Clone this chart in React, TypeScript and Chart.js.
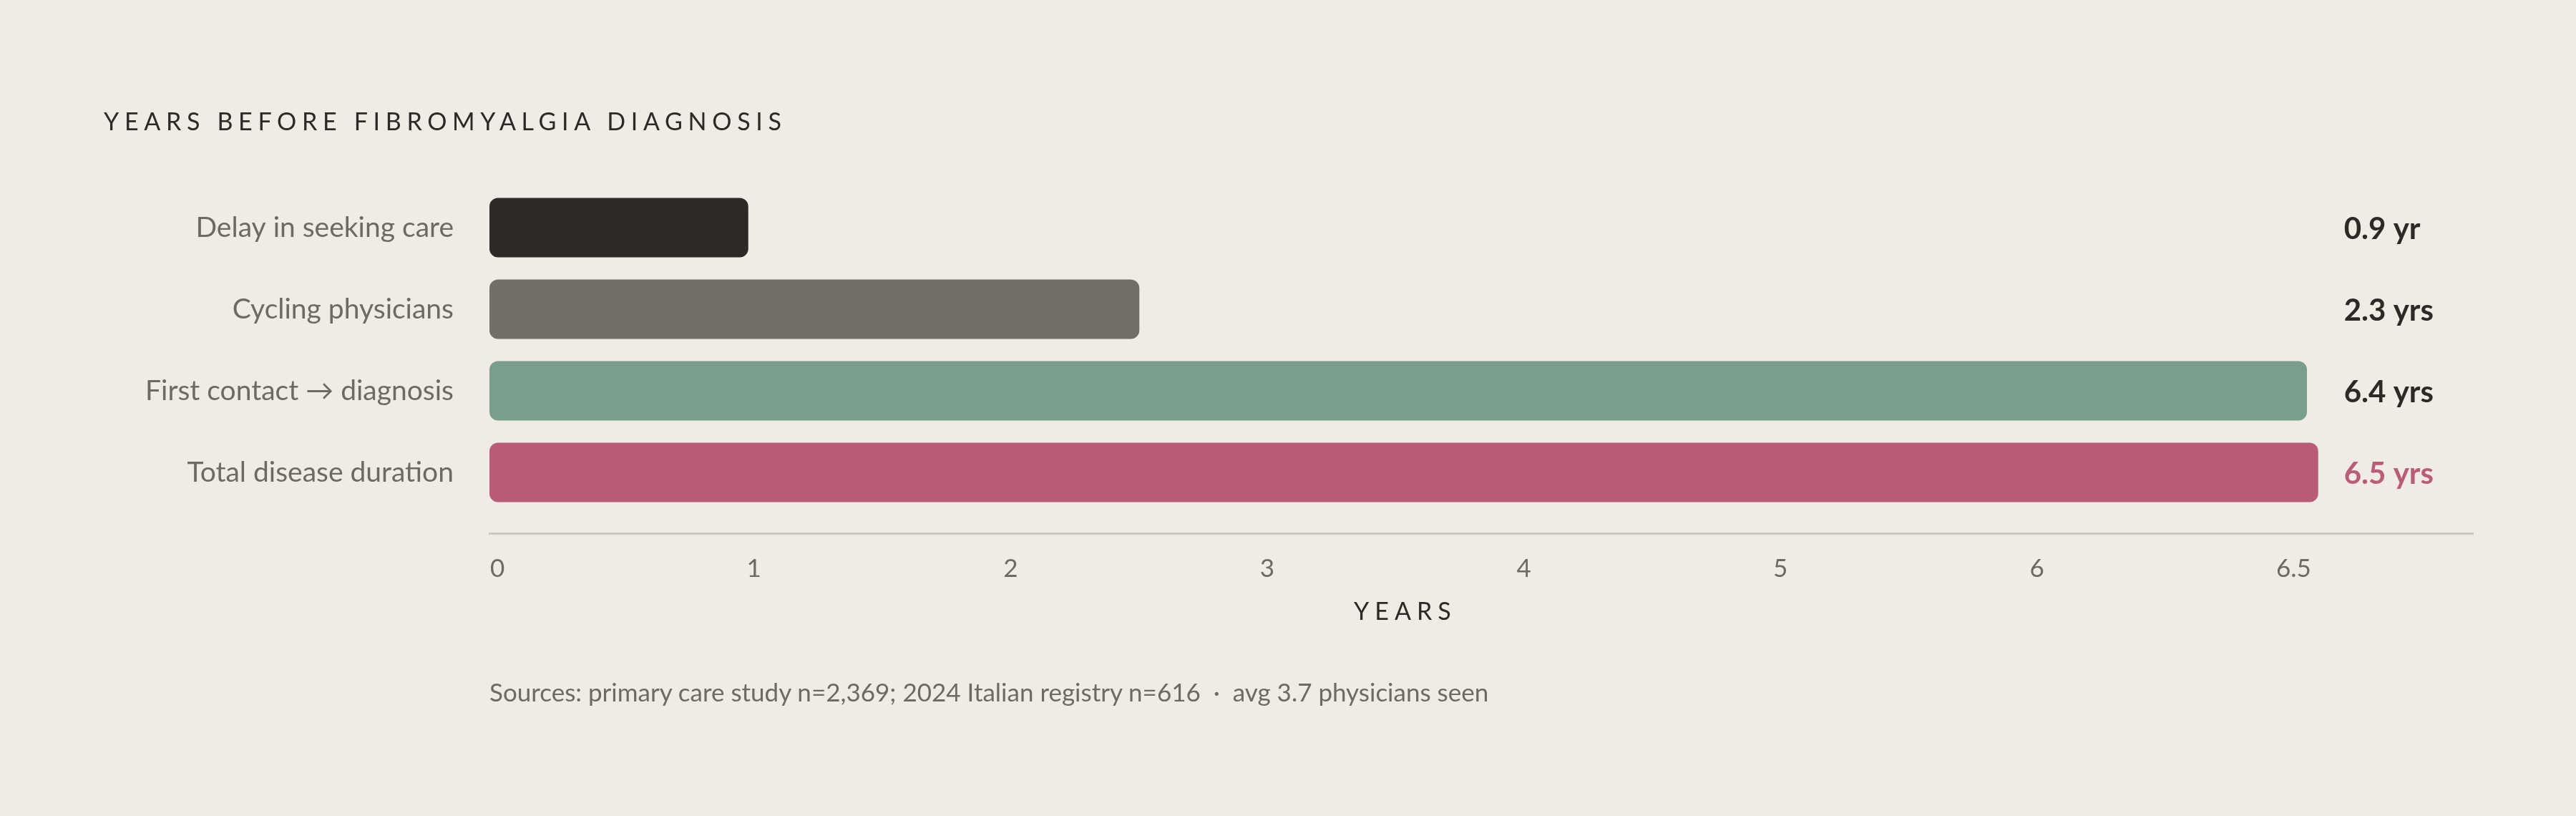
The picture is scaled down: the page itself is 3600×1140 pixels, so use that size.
import { useEffect, useRef } from "react";
import { Chart, registerables } from "chart.js";

Chart.register(...registerables);

const categories = [
  "Delay in seeking care",
  "Cycling physicians",
  "First contact \u2192 diagnosis",
  "Total disease duration",
];
const years = [0.92, 2.31, 6.46, 6.5];
const valueLabels = ["0.9 yr", "2.3 yrs", "6.4 yrs", "6.5 yrs"];
const barColors = ["#2d2926", "#736d68", "#7a9e8c", "#b95c78"];
const valueColors = ["#2d2926", "#2d2926", "#2d2926", "#b95c78"];
const tickLabels = ["0", "1", "2", "3", "4", "5", "6", "6.5"];

const BG = "#f0ebe5";
const INK = "#2d2926";
const MUTED = "#6e6964";

// value labels at the end of the track + the "YEARS" axis caption
const overlayPlugin = {
  id: "overlay",
  afterDatasetsDraw(chart: any) {
    const { ctx } = chart;
    const x = chart.scales.x;
    const y = chart.scales.y;
    const meta = chart.getDatasetMeta(0);
    const maxYears = Math.max(...years);
    const labelX = x.getPixelForValue(maxYears) + 36;

    ctx.save();
    ctx.font = "bold 42px Lato";
    ctx.textAlign = "left";
    ctx.textBaseline = "middle";
    meta.data.forEach((bar: any, i: number) => {
      ctx.fillStyle = valueColors[i];
      ctx.fillText(valueLabels[i], labelX, bar.y + 2);
    });

    ctx.font = "34px Lato";
    ctx.letterSpacing = "8px";
    ctx.fillStyle = INK;
    ctx.textAlign = "center";
    ctx.fillText("YEARS", x.getPixelForValue(maxYears / 2) + 2, y.getPixelForValue(3.75) + 110);
    ctx.restore();
  },
};

function YearsChart() {
  const canvasRef = useRef<HTMLCanvasElement>(null);
  const chartRef = useRef<Chart | null>(null);

  useEffect(() => {
    if (!canvasRef.current) return;
    const ctx = canvasRef.current.getContext("2d");
    if (!ctx) return;

    if (chartRef.current) {
      chartRef.current.destroy();
    }

    Chart.defaults.font.family = "Lato";

    chartRef.current = new Chart(ctx, {
      type: "bar",
      data: {
        labels: categories,
        datasets: [
          {
            data: years,
            backgroundColor: barColors,
            borderRadius: 12,
            borderSkipped: false,
            categoryPercentage: 1,
            barPercentage: 0.73,
          },
        ],
      },
      options: {
        indexAxis: "y",
        animation: false,
        responsive: true,
        maintainAspectRatio: false,
        layout: {
          padding: { left: 0, right: 144, top: 261, bottom: 423 },
        },
        plugins: {
          legend: { display: false },
          tooltip: { enabled: false },
        },
        scales: {
          x: {
            display: false,
            min: 0,
            max: 7.05,
          },
          // tick row: labels are spread evenly under the track, not at their values
          x2: {
            type: "linear",
            axis: "x",
            position: { y: 3.75 },
            min: -0.031,
            max: 7.699,
            afterBuildTicks: (scale: any) => {
              scale.ticks = tickLabels.map((_, i) => ({ value: i }));
            },
            grid: { display: false, drawTicks: false },
            border: { display: true, color: "#cbc6bf", width: 3 },
            ticks: {
              autoSkip: false,
              maxRotation: 0,
              padding: 28,
              color: MUTED,
              font: { size: 35 },
              callback: (value: any) => tickLabels[value] ?? "",
            },
          },
          y: {
            grid: { display: false, drawTicks: false },
            border: { display: false },
            afterFit: (scale: any) => {
              scale.width = 684;
            },
            ticks: {
              padding: 50,
              color: MUTED,
              font: { size: 39 },
            },
          },
        },
      },
      plugins: [overlayPlugin],
    });

    return () => {
      if (chartRef.current) {
        chartRef.current.destroy();
        chartRef.current = null;
      }
    };
  }, []);

  return <canvas ref={canvasRef} />;
}

export default function App() {
  return (
    <div
      style={{
        position: "fixed",
        left: 0,
        top: 0,
        width: 3600,
        height: 1140,
        background: BG,
        fontFamily: "Lato, sans-serif",
        overflow: "hidden",
      }}
    >
      <div style={{ position: "absolute", left: 0, top: 0, width: 3600, height: 1140 }}>
        <YearsChart />
      </div>
      <div
        style={{
          position: "absolute",
          left: 145,
          top: 150,
          fontSize: 34,
          lineHeight: "38px",
          letterSpacing: "0.226em",
          color: INK,
          whiteSpace: "nowrap",
        }}
      >
        YEARS BEFORE FIBROMYALGIA DIAGNOSIS
      </div>
      <div
        style={{
          position: "absolute",
          left: 684,
          top: 946,
          fontSize: 35,
          lineHeight: "40px",
          color: MUTED,
          whiteSpace: "nowrap",
        }}
      >
        Sources: primary care study n=2,369; 2024 Italian registry n=616{"\u00a0\u00a0\u00b7\u00a0\u00a0"}avg 3.7 physicians seen
      </div>
    </div>
  );
}
